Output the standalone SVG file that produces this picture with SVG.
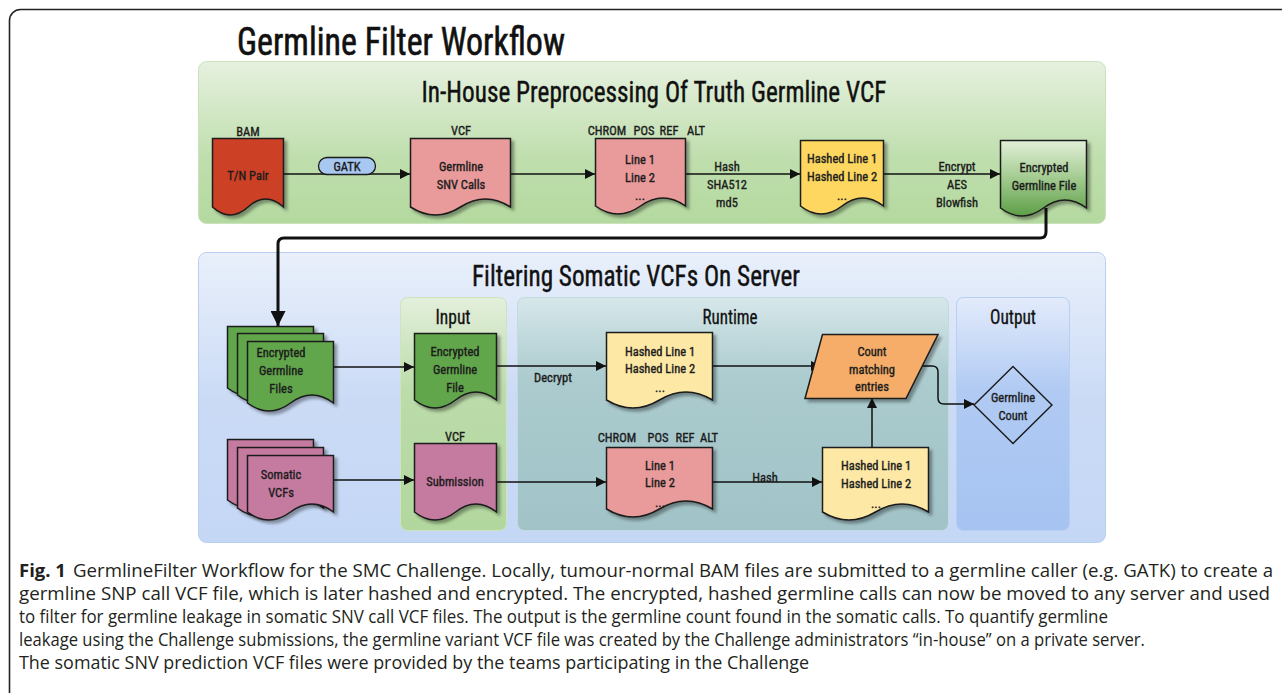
<svg xmlns="http://www.w3.org/2000/svg" width="1282" height="693" viewBox="0 0 1282 693">
<defs>
<linearGradient id="gPanel" x1="0" y1="0" x2="0" y2="1"><stop offset="0" stop-color="#e6f1df"/><stop offset="0.6" stop-color="#bfdead"/><stop offset="1" stop-color="#b4d99f"/></linearGradient>
<linearGradient id="bPanel" x1="0" y1="0" x2="0" y2="1"><stop offset="0" stop-color="#e9f0fb"/><stop offset="0.5" stop-color="#cbdbf6"/><stop offset="1" stop-color="#c4d7f5"/></linearGradient>
<linearGradient id="inPanel" x1="0" y1="0" x2="0" y2="1"><stop offset="0" stop-color="#e3efdb"/><stop offset="0.4" stop-color="#bcdcaa"/><stop offset="1" stop-color="#b2d79e"/></linearGradient>
<linearGradient id="rtPanel" x1="0" y1="0" x2="0" y2="1"><stop offset="0" stop-color="#d6e7ea"/><stop offset="0.35" stop-color="#abcbce"/><stop offset="1" stop-color="#a1c3c7"/></linearGradient>
<linearGradient id="outPanel" x1="0" y1="0" x2="0" y2="1"><stop offset="0" stop-color="#e3ebfb"/><stop offset="0.4" stop-color="#b0caf3"/><stop offset="1" stop-color="#a6c3f1"/></linearGradient>
<linearGradient id="encGrad" x1="0" y1="0" x2="0" y2="1"><stop offset="0" stop-color="#e2f0d8"/><stop offset="0.45" stop-color="#a9cf97"/><stop offset="1" stop-color="#5d9f47"/></linearGradient>
<filter id="sh" x="-20%" y="-20%" width="150%" height="150%"><feDropShadow dx="3" dy="3" stdDeviation="1.5" flood-color="#000" flood-opacity="0.35"/></filter>
<marker id="arr" viewBox="0 0 10 10" refX="10" refY="5" markerWidth="10" markerHeight="10" markerUnits="userSpaceOnUse" orient="auto"><path d="M0,0 L10,5 L0,10 Z" fill="#111"/></marker>
<marker id="arrBig" viewBox="0 0 10 10" refX="10" refY="5" markerWidth="5" markerHeight="5" orient="auto"><path d="M0,0 L10,5 L0,10 Z" fill="#111"/></marker>
</defs>
<style>
.doc{stroke:#1a1a1a;stroke-width:1.5;filter:url(#sh)}
.t{font-family:"Liberation Sans Narrow","Roboto Condensed","DejaVu Sans Condensed","Arial Narrow","Liberation Sans",sans-serif;font-stretch:condensed;font-size:12.5px;fill:#1c1c1c;stroke:#1c1c1c;stroke-width:0.35px;text-anchor:middle}
.big{font-family:"Liberation Sans Narrow","Roboto Condensed","DejaVu Sans Condensed","Liberation Sans",sans-serif;font-stretch:condensed;fill:#111;stroke:#111;stroke-width:0.6px;text-anchor:middle}
.cap{font-family:"Open Sans","Noto Sans","Liberation Sans",sans-serif;font-size:18.5px;fill:#231f20}
.ln{fill:none;stroke:#111;stroke-width:1.5;marker-end:url(#arr)}
</style>

<rect x="9.5" y="9.5" width="1290" height="700" rx="11" fill="#fff" stroke="#222" stroke-width="1.6"/>

<g id="title"><text class="big" x="401" y="55" font-size="38" textLength="328" lengthAdjust="spacingAndGlyphs">Germline Filter Workflow</text></g>

<g id="panel-inhouse">
<rect x="198.5" y="61.5" width="907" height="162" rx="8" fill="url(#gPanel)" stroke="#cbe3bd"/>
<text class="big" x="654" y="102" font-size="29" textLength="465" lengthAdjust="spacingAndGlyphs" style="stroke-width:0.4px">In-House Preprocessing Of Truth Germline VCF</text>
</g>

<g id="panel-server">
<rect x="198.5" y="252.5" width="907" height="290" rx="8" fill="url(#bPanel)" stroke="#b9cff2"/>
<text class="big" x="636" y="286" font-size="29" textLength="328" lengthAdjust="spacingAndGlyphs" style="stroke-width:0.4px">Filtering Somatic VCFs On Server</text>
</g>
<g id="panel-input">
<rect x="400.5" y="297.5" width="106" height="233" rx="7" fill="url(#inPanel)" stroke="#cde4bf"/>
<text class="big" x="453" y="324" font-size="20" textLength="35" lengthAdjust="spacingAndGlyphs" style="stroke-width:0.3px">Input</text>
</g>
<g id="panel-runtime">
<rect x="517.5" y="297.5" width="431" height="233" rx="7" fill="url(#rtPanel)" stroke="#c4dadd"/>
<text class="big" x="730" y="324" font-size="20" textLength="55" lengthAdjust="spacingAndGlyphs" style="stroke-width:0.3px">Runtime</text>
</g>
<g id="panel-output">
<rect x="956.5" y="297.5" width="113" height="233" rx="7" fill="url(#outPanel)" stroke="#b8cff4"/>
<text class="big" x="1013" y="324" font-size="20" textLength="46" lengthAdjust="spacingAndGlyphs" style="stroke-width:0.3px">Output</text>
</g>

<g id="connectors">
<line class="ln" x1="283" y1="174" x2="410" y2="174"/>
<line class="ln" x1="510" y1="174" x2="595" y2="174"/>
<line class="ln" x1="685" y1="174" x2="800" y2="174"/>
<line class="ln" x1="883" y1="174" x2="1000" y2="174"/>
<path d="M1046,208 V232 Q1046,238 1040,238 H284 Q278,238 278,244 V326" fill="none" stroke="#111" stroke-width="3" marker-end="url(#arrBig)"/>
<line class="ln" x1="333" y1="367" x2="414" y2="367"/>
<line class="ln" x1="333" y1="480" x2="414" y2="480"/>
<line class="ln" x1="496" y1="366" x2="606" y2="366"/>
<line class="ln" x1="712" y1="366" x2="821" y2="366"/>
<line class="ln" x1="496" y1="482" x2="606" y2="482"/>
<line class="ln" x1="712" y1="482" x2="822" y2="482"/>
<line class="ln" x1="872" y1="447" x2="872" y2="398"/>
<path class="ln" d="M922,366 H932 Q938,366 938,372 V398 Q938,404 944,404 H974"/>
<text class="t" x="553" y="382">Decrypt</text>
<text class="t" x="765" y="482">Hash</text>
<text class="t" x="727" y="171">Hash</text>
<text class="t" x="727" y="189">SHA512</text>
<text class="t" x="727" y="207">md5</text>
<text class="t" x="957" y="171">Encrypt</text>
<text class="t" x="957" y="189">AES</text>
<text class="t" x="957" y="207">Blowfish</text>
</g>

<g id="n-tnpair">
<text class="t" x="248" y="136">BAM</text>
<path class="doc" fill="#cc3f26" d="M212.5,138.5 H283.5 V207 Q265.75,191 248,207 Q230.25,223 212.5,207 Z"/>
<text class="t" x="248" y="180">T/N Pair</text>
</g>
<g id="n-gatk">
<rect x="318.5" y="157.5" width="57" height="17" rx="8.5" fill="#a9c8f1" stroke="#1a1a1a" stroke-width="1.3"/>
<text class="t" x="347" y="171">GATK</text>
</g>
<g id="n-snvcalls">
<text class="t" x="461" y="135">VCF</text>
<path class="doc" fill="#e99a9a" d="M410.5,138.5 H510.5 V207 Q485.5,191 460.5,207 Q435.5,223 410.5,207 Z"/>
<text class="t" x="461" y="171">Germline</text>
<text class="t" x="461" y="189">SNV Calls</text>
</g>
<g id="n-lines-top">
<text class="t" x="607" y="135">CHROM</text>
<text class="t" x="644" y="135">POS</text>
<text class="t" x="669" y="135">REF</text>
<text class="t" x="696" y="135">ALT</text>
<path class="doc" fill="#e99a9a" d="M595.5,138.5 H685.5 V206 Q663,190 640.5,206 Q618,222 595.5,206 Z"/>
<text class="t" x="640" y="164">Line 1</text>
<text class="t" x="640" y="182">Line 2</text>
<text class="t" x="640" y="200">...</text>
</g>
<g id="n-hashed-top">
<path class="doc" fill="#fdd761" d="M800.5,140.5 H883.5 V206 Q862.75,190 842,206 Q821.25,222 800.5,206 Z"/>
<text class="t" x="842" y="163">Hashed Line 1</text>
<text class="t" x="842" y="181">Hashed Line 2</text>
<text class="t" x="842" y="200">...</text>
</g>
<g id="n-encrypted-top">
<path class="doc" fill="url(#encGrad)" d="M1000.5,140.5 H1086.5 V208 Q1065,192 1043.5,208 Q1022,224 1000.5,208 Z"/>
<text class="t" x="1044" y="172">Encrypted</text>
<text class="t" x="1044" y="190">Germline File</text>
</g>

<g id="n-enc-files">
<path class="doc" fill="#62a64b" d="M227.5,326.5 H313.5 V388 Q292,372 270.5,388 Q249,404 227.5,388 Z"/>
<path class="doc" fill="#62a64b" d="M237.5,333.5 H323.5 V395 Q302,379 280.5,395 Q259,411 237.5,395 Z"/>
<path class="doc" fill="#62a64b" d="M247.5,341.5 H333.5 V403 Q312,387 290.5,403 Q269,419 247.5,403 Z"/>
<text class="t" x="281" y="357">Encrypted</text>
<text class="t" x="281" y="375">Germline</text>
<text class="t" x="281" y="393">Files</text>
</g>
<g id="n-somatic">
<path class="doc" fill="#c57a9f" d="M227.5,439.5 H313.5 V500 Q292,484 270.5,500 Q249,516 227.5,500 Z"/>
<path class="doc" fill="#c57a9f" d="M237.5,447.5 H323.5 V508 Q302,492 280.5,508 Q259,524 237.5,508 Z"/>
<path class="doc" fill="#c57a9f" d="M247.5,455.5 H333.5 V512 Q312,496 290.5,512 Q269,528 247.5,512 Z"/>
<text class="t" x="281" y="479">Somatic</text>
<text class="t" x="281" y="497">VCFs</text>
</g>
<g id="n-enc-input">
<path class="doc" fill="#62a64b" d="M414.5,333.5 H496.5 V400 Q476,384 455.5,400 Q435,416 414.5,400 Z"/>
<text class="t" x="455" y="356">Encrypted</text>
<text class="t" x="455" y="374">Germline</text>
<text class="t" x="455" y="392">File</text>
</g>
<g id="n-submission">
<text class="t" x="455" y="441">VCF</text>
<path class="doc" fill="#c57a9f" d="M414.5,443.5 H496.5 V512 Q476,496 455.5,512 Q435,528 414.5,512 Z"/>
<text class="t" x="455" y="486">Submission</text>
</g>
<g id="n-hashed-rt">
<path class="doc" fill="#fde9a5" d="M606.5,332.5 H712.5 V400 Q686,384 659.5,400 Q633,416 606.5,400 Z"/>
<text class="t" x="660" y="356">Hashed Line 1</text>
<text class="t" x="660" y="373">Hashed Line 2</text>
<text class="t" x="660" y="392">...</text>
</g>
<g id="n-count">
<path class="doc" fill="#f5ad69" d="M822.5,334.5 H938 L906,398.5 H805 Z"/>
<text class="t" x="872" y="356">Count</text>
<text class="t" x="872" y="374">matching</text>
<text class="t" x="872" y="391">entries</text>
</g>
<g id="n-lines-rt">
<text class="t" x="617" y="442">CHROM</text>
<text class="t" x="658" y="442">POS</text>
<text class="t" x="685" y="442">REF</text>
<text class="t" x="709" y="442">ALT</text>
<path class="doc" fill="#e99a9a" d="M606.5,447.5 H712.5 V509 Q686,493 659.5,509 Q633,525 606.5,509 Z"/>
<text class="t" x="660" y="470">Line 1</text>
<text class="t" x="660" y="487">Line 2</text>
<text class="t" x="660" y="507">...</text>
</g>
<g id="n-hashed-rt2">
<path class="doc" fill="#fde9a5" d="M822.5,447.5 H928.5 V512 Q902,496 875.5,512 Q849,528 822.5,512 Z"/>
<text class="t" x="876" y="470">Hashed Line 1</text>
<text class="t" x="876" y="488">Hashed Line 2</text>
<text class="t" x="876" y="508">...</text>
</g>
<g id="n-germline-count">
<path d="M1013,366.5 L1052,405 L1013,443.5 L974,405 Z" fill="none" stroke="#1a1a1a" stroke-width="1.4"/>
<text class="t" x="1013" y="402">Germline</text>
<text class="t" x="1013" y="420">Count</text>
</g>

<g id="caption">
<text class="cap" x="19" y="577" font-weight="bold" font-size="20">Fig. 1</text>
<text class="cap" x="73" y="577" textLength="1200" lengthAdjust="spacingAndGlyphs">GermlineFilter Workflow for the SMC Challenge. Locally, tumour-normal BAM files are submitted to a germline caller (e.g. GATK) to create a</text>
<text class="cap" x="19" y="600" textLength="1251" lengthAdjust="spacingAndGlyphs">germline SNP call VCF file, which is later hashed and encrypted. The encrypted, hashed germline calls can now be moved to any server and used</text>
<text class="cap" x="19" y="623" textLength="1089" lengthAdjust="spacingAndGlyphs">to filter for germline leakage in somatic SNV call VCF files. The output is the germline count found in the somatic calls. To quantify germline</text>
<text class="cap" x="19" y="646" textLength="1126" lengthAdjust="spacingAndGlyphs">leakage using the Challenge submissions, the germline variant VCF file was created by the Challenge administrators “in-house” on a private server.</text>
<text class="cap" x="19" y="669" textLength="790" lengthAdjust="spacingAndGlyphs">The somatic SNV prediction VCF files were provided by the teams participating in the Challenge</text>
</g>
</svg>
